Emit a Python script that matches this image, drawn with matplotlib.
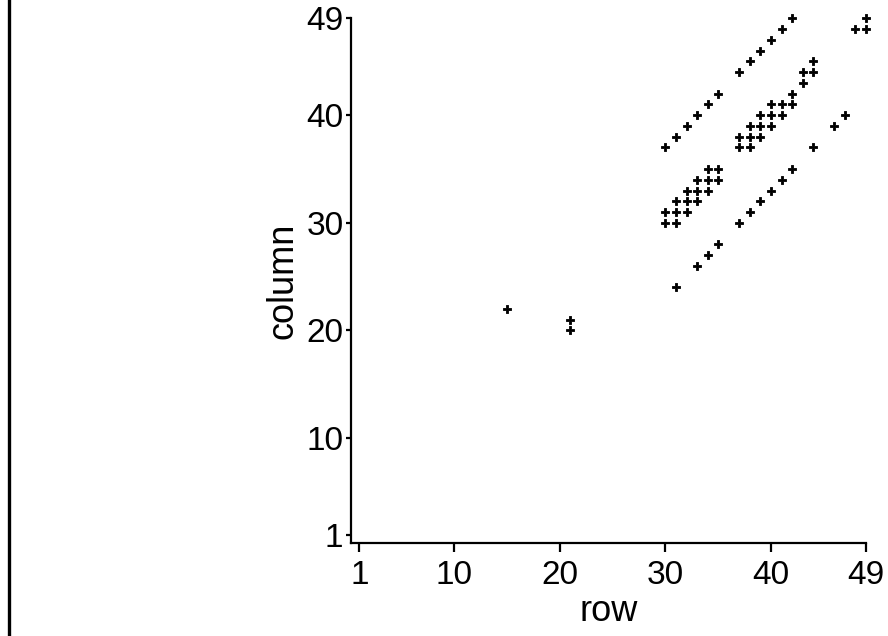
import matplotlib
matplotlib.use("Agg")
import matplotlib.pyplot as plt
from matplotlib.lines import Line2D

plt.rcParams['font.family'] = ['Liberation Sans', 'DejaVu Sans']

# (row, column) pairs
rows = [15, 21, 21, 31, 33, 34, 35,
        37, 38, 39, 40, 41, 42,
        30, 31, 30, 31, 32, 31, 32, 33, 32, 33, 34, 33, 34, 35, 34, 35,
        30, 31, 32, 33, 34, 35,
        37, 38, 37, 38, 39, 38, 39, 40, 39, 40, 41, 40, 41, 42, 42,
        44, 46, 47,
        43, 43, 44, 44,
        37, 38, 39, 40, 41, 42,
        48, 49, 49]
columns = [22, 21, 20, 24, 26, 27, 28,
           30, 31, 32, 33, 34, 35,
           30, 30, 31, 31, 31, 32, 32, 32, 33, 33, 33, 34, 34, 34, 35, 35,
           37, 38, 39, 40, 41, 42,
           37, 37, 38, 38, 38, 39, 39, 39, 40, 40, 40, 41, 41, 41, 42,
           37, 39, 40,
           43, 44, 44, 45,
           44, 45, 46, 47, 48, 49,
           48, 48, 49]
tick_values = [1, 10, 20, 30, 40, 49]

fig = plt.figure(figsize=(8.88, 6.36), dpi=100)
ax = fig.add_axes([0.3958, 0.1462, 0.5794, 0.825])

ax.scatter(rows, columns, marker='P', s=34, color='black', edgecolors='black',
           linewidths=0.6, zorder=3, clip_on=False)

ax.set_xlim(0.25, 49)
ax.set_ylim(0.25, 49)
ax.set_xticks(tick_values)
ax.set_yticks(tick_values)
ax.tick_params(axis='x', direction='out', length=6.5, width=1.6, pad=6, labelsize=24)
ax.tick_params(axis='y', direction='out', length=3.8, width=1.6, pad=2, labelsize=24)

for side in ['top', 'right']:
    ax.spines[side].set_visible(False)
for side in ['left', 'bottom']:
    ax.spines[side].set_linewidth(1.6)

ax.set_xlabel('row', fontsize=26, labelpad=2)
ax.set_ylabel('column', fontsize=26, labelpad=4)

# vertical rule at the left edge of the picture
fig.add_artist(Line2D([8.5 / 888, 8.5 / 888], [0, 1], transform=fig.transFigure,
                      color='black', linewidth=2.4))

fig.savefig('out.png', dpi=100)
